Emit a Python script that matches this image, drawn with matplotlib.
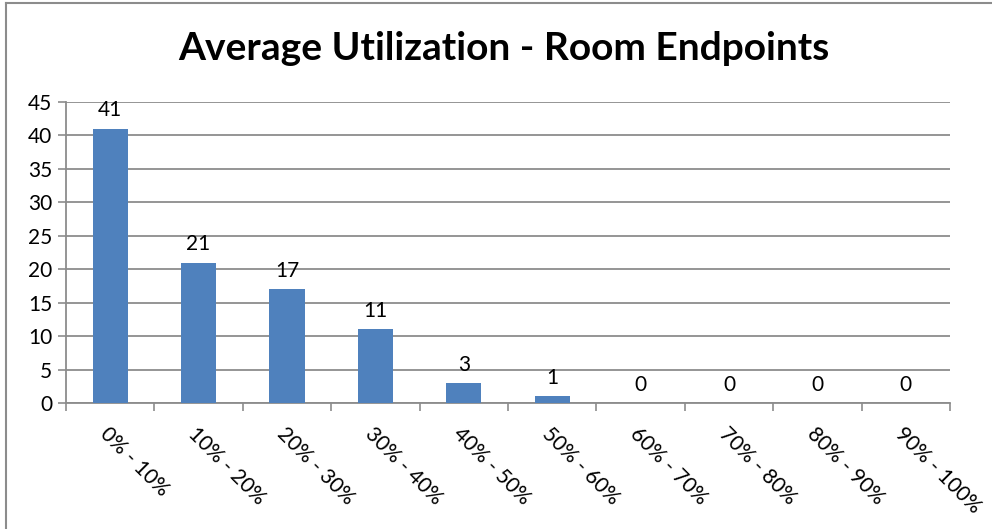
import numpy as np
import matplotlib

matplotlib.use("Agg")
import matplotlib.pyplot as plt
from matplotlib.lines import Line2D

categories = ["0% - 10%", "10% - 20%", "20% - 30%", "30% - 40%", "40% - 50%",
              "50% - 60%", "60% - 70%", "70% - 80%", "80% - 90%", "90% - 100%"]
counts = [41, 21, 17, 11, 3, 1, 0, 0, 0, 0]
y_ticks = [0, 5, 10, 15, 20, 25, 30, 35, 40, 45]

plt.rcParams["font.family"] = ["Lato", "DejaVu Sans"]
grid_color = "#8c8c8c"

fig = plt.figure(figsize=(9.92, 5.29), dpi=100)
ax = fig.add_axes([66 / 992, 1 - 403 / 529, (950 - 66) / 992, (403 - 102) / 529])

x = np.arange(len(categories))
bars = ax.bar(x, counts, width=0.4, color="#4F81BD", zorder=3)
for xi, v in zip(x, counts):
    ax.annotate(str(v), (xi, v), xytext=(0, 6), textcoords="offset points",
                ha="center", va="bottom", fontsize=15)

ax.set_xlim(-0.5, len(categories) - 0.5)
ax.set_ylim(0, 45)
ax.set_yticks(y_ticks)
ax.tick_params(axis="y", labelsize=15, length=6, width=1.2, color=grid_color, pad=4)
ax.yaxis.grid(True, color=grid_color, linewidth=1.3, zorder=0)

# ticks on category boundaries, labels at centres
ax.set_xticks(np.arange(len(categories) + 1) - 0.5)
ax.set_xticklabels([])
ax.tick_params(axis="x", which="major", length=6, width=1.2, color=grid_color)
ax.set_xticks(x, minor=True)
ax.set_xticklabels(categories, minor=True, rotation=-45, ha="left",
                   rotation_mode="anchor", fontsize=15)
ax.tick_params(axis="x", which="minor", length=0, pad=15)

for s in ["top", "right"]:
    ax.spines[s].set_visible(False)
for s in ["left", "bottom"]:
    ax.spines[s].set_color(grid_color)
    ax.spines[s].set_linewidth(1.3)

fig.text(504 / 992, 1 - 48 / 529, "Average Utilization - Room Endpoints",
         ha="center", va="center", fontsize=28, fontweight="bold")

# chart frame: only left and top edges show in the crop
left_x, top_y = 6 / 992, 1 - 3 / 529
fig.lines.append(Line2D([left_x, left_x], [0, top_y], transform=fig.transFigure,
                        color="#8c8c8c", linewidth=1.5))
fig.lines.append(Line2D([left_x, 1], [top_y, top_y], transform=fig.transFigure,
                        color="#8c8c8c", linewidth=1.5))

fig.savefig("out.png", dpi=100)
plt.close(fig)
